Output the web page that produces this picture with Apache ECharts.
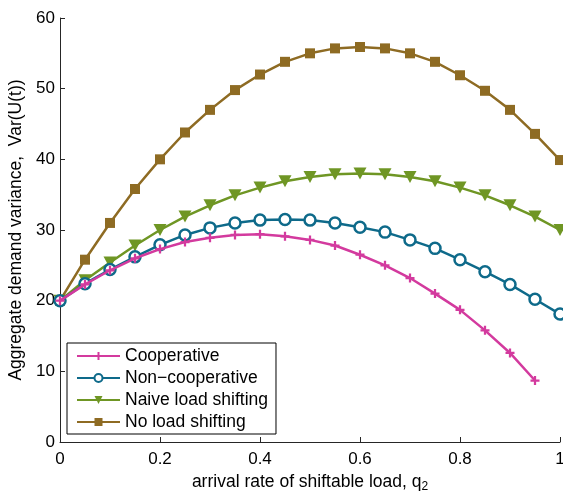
<!DOCTYPE html>
<html><head><meta charset="utf-8">
<script src="https://cdn.jsdelivr.net/npm/echarts@6/dist/echarts.min.js"></script>
<style>html,body{margin:0;padding:0;background:#fff}#c{width:563px;height:496px}</style>
</head><body><div id="c"></div>
<script>
const q = [0,0.05,0.1,0.15,0.2,0.25,0.3,0.35,0.4,0.45,0.5,0.55,0.6,0.65,0.7,0.75,0.8,0.85,0.9,0.95,1];
const cooperative = [20,22.3,24.3,26.0,27.3,28.3,28.9,29.3,29.4,29.1,28.6,27.8,26.5,25.0,23.2,21.0,18.7,15.8,12.6,8.7];
const nonCooperative = [20,22.4,24.4,26.2,27.9,29.3,30.3,31.0,31.4,31.5,31.4,31.0,30.4,29.7,28.6,27.4,25.8,24.1,22.3,20.2,18.1];
const naive = [20,22.9,25.4,27.8,30.0,31.9,33.5,34.9,36.0,36.9,37.5,37.9,38.0,37.9,37.5,36.9,36.0,34.9,33.5,31.9,30.0];
const noShift = [20,25.8,31.0,35.8,40.0,43.8,47.0,49.8,52.0,53.8,55.0,55.7,55.9,55.7,55.0,53.8,51.9,49.7,47.0,43.6,39.9];
const xTicks = [0,0.2,0.4,0.6,0.8,1];
const yTicks = [0,10,20,30,40,50,60];
const names = ['Cooperative','Non\u2212cooperative','Naive load shifting','No load shifting'];

function pairs(v){ return v.map((y,i)=>[q[i],y]); }
const font = 'Liberation Sans, Arial, Helvetica, sans-serif';
const plusPath = 'path://M3,0H5V3H8V5H5V8H3V5H0V3H3Z';

const chart = echarts.init(document.getElementById('c'), null, {renderer:'canvas'});
const axisCommon = {
  axisLine:{show:true,lineStyle:{color:'#262626',width:1}},
  axisTick:{show:true,inside:true,length:5,lineStyle:{color:'#262626'}},
  splitLine:{show:false},
  axisLabel:{color:'#000',fontSize:17,fontFamily:font},
  nameTextStyle:{color:'#000',fontSize:17.5,fontFamily:font}
};
chart.setOption({
  animation:false,
  backgroundColor:'#fff',
  grid:{left:60,right:3,top:18,bottom:54,containLabel:false,outerBoundsMode:'none'},
  xAxis:Object.assign({}, axisCommon, {
    type:'value',min:0,max:1,interval:0.2,
    axisLabel:Object.assign({}, axisCommon.axisLabel,{margin:9,formatter:v=>{const s=xTicks.find(t=>Math.abs(t-v)<1e-9);return String(s);}}),
    name:'arrival rate of shiftable load, q{sub|2}',
    nameLocation:'middle',nameGap:27,
    nameTextStyle:Object.assign({}, axisCommon.nameTextStyle,{rich:{sub:{fontSize:12,fontFamily:font,color:'#000',verticalAlign:'bottom',padding:[9,0,0,0]}}})
  }),
  yAxis:Object.assign({}, axisCommon, {
    type:'value',min:0,max:60,interval:10,
    axisLabel:Object.assign({}, axisCommon.axisLabel,{margin:5,formatter:v=>String(yTicks.find(t=>t===v))}),
    name:'Aggregate demand variance,  Var(U(t))',
    nameLocation:'middle',nameGap:27,nameRotate:90
  }),
  legend:{
    orient:'vertical',left:67,top:343,
    padding:[4,8,3,9],itemGap:4,itemWidth:43,itemHeight:10,
    borderColor:'#000',borderWidth:1,backgroundColor:'#fff',
    textStyle:{fontSize:17.5,fontFamily:font,color:'#000'},
    data:names
  },
  series:[
    {name:names[0],type:'line',data:pairs(cooperative),color:'#d33a9e',
     lineStyle:{width:2.5,color:'#d33a9e'},symbol:plusPath,symbolSize:9,
     itemStyle:{color:'#d33a9e'},z:5},
    {name:names[1],type:'line',data:pairs(nonCooperative),color:'#0e6a8a',
     lineStyle:{width:2.5,color:'#0e6a8a'},symbol:'circle',symbolSize:11,showSymbol:true,
     itemStyle:{color:'#fff',borderColor:'#0e6a8a',borderWidth:2.5},z:4},
    {name:names[2],type:'line',data:pairs(naive),color:'#6f9624',
     lineStyle:{width:2.5,color:'#6f9624'},symbol:'triangle',symbolRotate:180,symbolSize:[13,12],
     itemStyle:{color:'#6f9624'},z:3},
    {name:names[3],type:'line',data:pairs(noShift),color:'#8e6b23',
     lineStyle:{width:2.5,color:'#8e6b23'},symbol:'rect',symbolSize:10,
     itemStyle:{color:'#8e6b23'},z:2}
  ]
});
</script></body></html>
